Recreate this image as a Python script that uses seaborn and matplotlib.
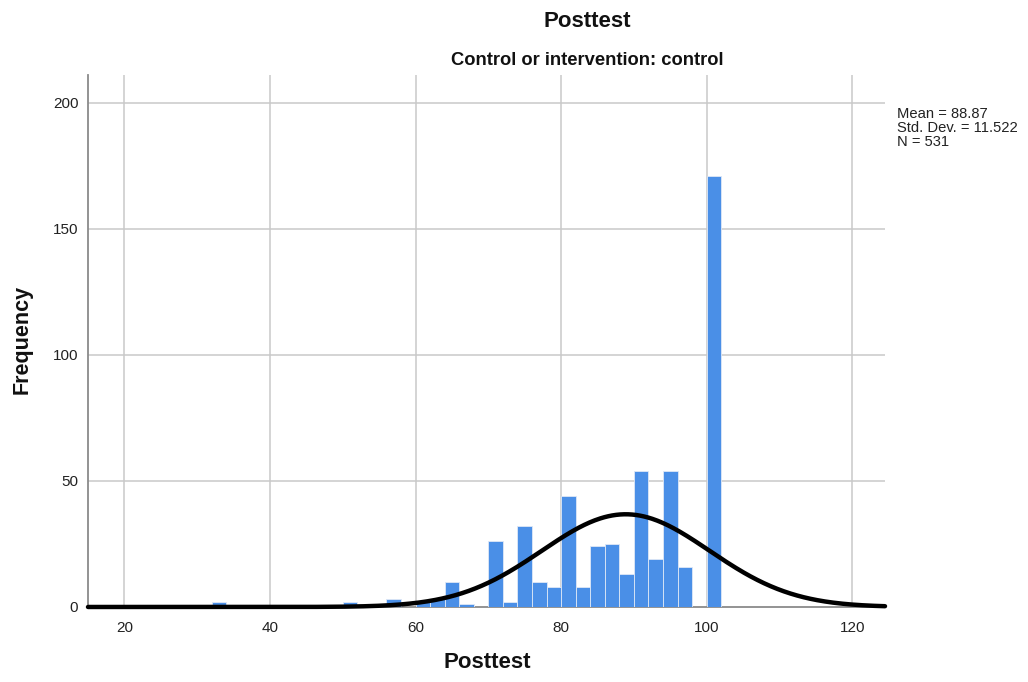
import numpy as np
import pandas as pd
import matplotlib
matplotlib.use("Agg")
import matplotlib.pyplot as plt
import seaborn as sns

# Histogram of posttest scores (control group), bins of width 2
bin_lefts = [32, 50, 56, 60, 62, 64, 66, 70, 72, 74, 76, 78, 80, 82, 84, 86, 88, 90, 92, 94, 96, 100]
counts    = [2,  2,  3,  2,  3,  10, 1,  26, 2,  32, 10, 8,  44, 8,  24, 25, 13, 54, 19, 54, 16, 171]
bin_width = 2

# Summary statistics shown beside the plot and used for the normal curve
mean_val = 88.87
sd_val = 11.522
n_val = 531

x_ticks = [20, 40, 60, 80, 100, 120]
y_ticks = [0, 50, 100, 150, 200]

sns.set_theme(style="white")
plt.rcParams["font.family"] = ["Liberation Sans", "DejaVu Sans"]

df = pd.DataFrame({"Posttest": [b + bin_width / 2 for b in bin_lefts], "count": counts})

fig = plt.figure(figsize=(10.28, 6.82), dpi=100)
ax = fig.add_axes([0.0856, 0.110, 0.7753, 0.780])

grid_c = "#c9c9c9"
ax.set_axisbelow(True)
for xv in x_ticks:
    ax.axvline(xv, color=grid_c, lw=1.1, zorder=0)
for yv in y_ticks[1:]:
    ax.axhline(yv, color=grid_c, lw=1.1, zorder=0)

sns.histplot(data=df, x="Posttest", weights="count", binwidth=bin_width, binrange=(14, 126),
             ax=ax, color="#4a8fe7", alpha=1.0, edgecolor="#dfe8f6", linewidth=0.6, zorder=2)

# Normal curve scaled to counts per bin
xs = np.linspace(15, 124.5, 600)
ys = n_val * bin_width * np.exp(-0.5 * ((xs - mean_val) / sd_val) ** 2) / (sd_val * np.sqrt(2 * np.pi))
sns.lineplot(x=xs, y=ys, ax=ax, color="black", lw=3.2, zorder=3, clip_on=False)

ax.set_xlim(15, 124.5)
ax.set_ylim(0, 211)
ax.set_xticks(x_ticks)
ax.set_yticks(y_ticks)
ax.tick_params(axis="both", length=0, labelsize=11, colors="#222222")
ax.tick_params(axis="x", pad=10)
ax.tick_params(axis="y", pad=7)

for s in ["top", "right"]:
    ax.spines[s].set_visible(False)
for s in ["left", "bottom"]:
    ax.spines[s].set_color("#8a8a8a")
    ax.spines[s].set_linewidth(1.3)
    ax.spines[s].set_zorder(1.5)

ax.set_xlabel("Posttest", fontsize=16, fontweight="bold", color="#111111")
ax.set_ylabel("Frequency", fontsize=15.5, fontweight="bold", color="#111111")
ax.xaxis.set_label_coords(0.5006, -0.105)
ax.xaxis.label.set_verticalalignment("center")
ax.yaxis.set_label_coords(-0.083, 0.502)
ax.yaxis.label.set_verticalalignment("center")

fig.text(0.571, 0.969, "Posttest", ha="center", va="center",
         fontsize=16, fontweight="bold", color="#111111")
fig.text(0.571, 0.911, "Control or intervention: control", ha="center", va="center",
         fontsize=13.2, fontweight="bold", color="#111111")

fig.text(0.8726, 0.843,
         f"Mean = {mean_val:.2f}\nStd. Dev. = {sd_val:.3f}\nN = {n_val}",
         ha="left", va="top", fontsize=10.6, linespacing=0.98, color="#222222")

fig.savefig("out.png", dpi=100)
